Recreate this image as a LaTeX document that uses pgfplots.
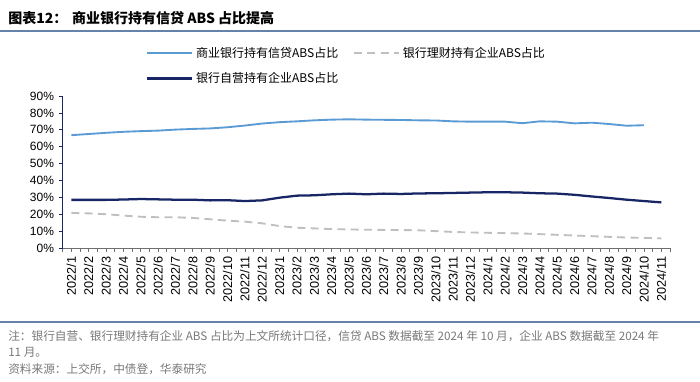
\documentclass[border=0pt]{standalone}
\usepackage{fontspec}
\setmainfont{Liberation Sans}
\newfontfamily\cjk{Noto Sans CJK SC}
\usepackage{pgfplots}
\usepackage{pgfplotstable}
\pgfplotsset{compat=1.18}
\definecolor{lblue}{RGB}{91,155,213}
\definecolor{navy}{RGB}{24,38,102}
\definecolor{lgray}{RGB}{191,191,191}
\definecolor{rulec}{RGB}{100,130,170}
\definecolor{notegray}{RGB}{120,120,120}
\definecolor{axgray}{RGB}{110,110,110}

\pgfplotstableread{
i blue dash navy
0 66.8 20.8 28.5
1 67.5 20.5 28.5
2 68.2 20.0 28.5
3 68.8 19.2 28.7
4 69.2 18.5 29.0
5 69.5 18.2 28.8
6 70.1 18.2 28.6
7 70.5 17.8 28.6
8 70.8 17.0 28.2
9 71.5 16.2 28.3
10 72.5 15.6 27.8
11 73.7 14.6 28.2
12 74.5 13.0 29.8
13 75.0 12.0 31.0
14 75.6 11.6 31.2
15 76.0 11.2 31.8
16 76.2 11.0 32.2
17 76.0 10.8 31.8
18 75.9 10.7 32.2
19 75.8 10.6 32.0
20 75.6 10.5 32.3
21 75.5 10.0 32.4
22 75.0 9.5 32.6
23 74.8 9.2 32.8
24 74.8 9.0 33.0
25 74.8 8.8 33.0
26 73.9 8.6 32.8
27 75.0 8.2 32.4
28 74.8 7.8 32.2
29 73.8 7.4 31.5
30 74.2 7.0 30.5
31 73.4 6.6 29.6
32 72.4 6.2 28.6
33 72.7 6.0 27.8
34 nan 5.7 27.0
}\datatable

\begin{document}
\begin{tikzpicture}
\useasboundingbox (0,0) rectangle (525pt,286.5pt);
\node[anchor=west, inner sep=0] at (6pt,273pt) {\cjk\bfseries\fontsize{10.5}{12}\selectfont 图表12：\hspace{0.35em}商业银行持有信贷 ABS 占比提高};
\draw[rulec, line width=1pt] (0,263.25pt) -- (525pt,263.25pt);
\begin{axis}[
  scale only axis,
  width=455.5pt, height=114pt,
  at={(47pt,100.5pt)}, anchor=south west,
  xmin=-0.5, xmax=34.5, ymin=0, ymax=90,
  axis x line*=bottom, axis y line*=left,
  x axis line style={draw=axgray, line width=0.6pt, -},
  y axis line style={draw=navy, line width=0.6pt, -},
  xtick={-0.5,0.5,...,34.5}, xticklabels={},
  xtick style={draw=axgray, line width=0.5pt},
  extra x ticks={0,1,...,34},
  extra x tick labels={2022/1,2022/2,2022/3,2022/4,2022/5,2022/6,2022/7,2022/8,2022/9,2022/10,2022/11,2022/12,2023/1,2023/2,2023/3,2023/4,2023/5,2023/6,2023/7,2023/8,2023/9,2023/10,2023/11,2023/12,2024/1,2024/2,2024/3,2024/4,2024/5,2024/6,2024/7,2024/8,2024/9,2024/10,2024/11},
  extra x tick style={tick style={draw=none}, xticklabel style={rotate=90, anchor=east, font=\fontsize{9.5}{10}\selectfont}},
  ytick={0,10,...,90},
  ytick style={draw=navy, line width=0.5pt},
  tick align=outside, major tick length=3pt,
  yticklabel={\pgfmathprintnumber{\tick}\%},
  /pgf/number format/assume math mode=true,
  tick label style={font=\fontsize{9}{10}\selectfont, text=black},
  legend columns=2,
  legend cell align=left,
  legend style={at={(0.13,1.36)}, anchor=north west, draw=none, fill=none,
    font=\cjk\fontsize{9}{10}\selectfont, row sep=6pt,
    /tikz/every even column/.append style={column sep=9pt}},
  legend image code/.code={\draw[#1] (0pt,0pt) -- (34pt,0pt);},
]
\addplot[lblue, line width=1.4pt] table[x=i, y=blue] {\datatable};
\addlegendentry{商业银行持有信贷ABS占比}
\addplot[lgray, line width=1.4pt, dash pattern=on 6pt off 4pt] table[x=i, y=dash] {\datatable};
\addlegendentry{银行理财持有企业ABS占比}
\addplot[navy, line width=1.7pt] table[x=i, y=navy] {\datatable};
\addlegendentry{银行自营持有企业ABS占比}
\end{axis}
\draw[rulec, line width=0.8pt] (0,45pt) -- (525pt,45pt);
\node[anchor=west, inner sep=0, text=notegray] at (6pt,34.5pt) {\cjk\fontsize{8.75}{10}\selectfont 注：银行自营、银行理财持有企业 ABS 占比为上文所统计口径，信贷 ABS 数据截至 2024 年 10 月，企业 ABS 数据截至 2024 年};
\node[anchor=west, inner sep=0, text=notegray] at (6pt,22.5pt) {\cjk\fontsize{8.75}{10}\selectfont 11 月。};
\node[anchor=west, inner sep=0, text=notegray] at (6pt,9.75pt) {\cjk\fontsize{8.75}{10}\selectfont 资料来源：上交所，中债登，华泰研究};
\end{tikzpicture}
\end{document}
